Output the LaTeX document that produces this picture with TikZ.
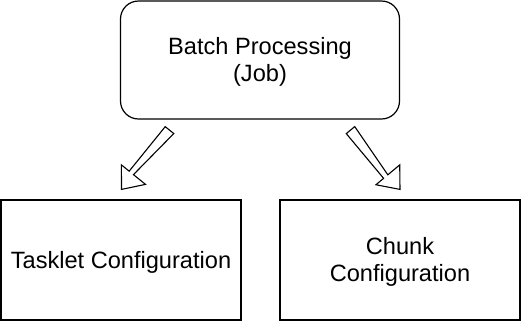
\documentclass[tikz,border=0pt]{standalone}
\usepackage{fontspec}
\setmainfont{Liberation Sans}
\usetikzlibrary{calc}

% hollow block arrow from #1 (tail) to #2 (tip)
\newcommand{\blockarrow}[2]{%
	\draw[hollowarrow]
		($(#1)!5.5pt!90:(#2)$)
		-- ($(#2)!19pt!(#1)$) -- ++(0,0) coordinate (tmp)
		-- ($(tmp)!5.5pt!-90:(#1)$)
		-- ($(tmp)!15.5pt!-90:(#1)$)
		-- (#2)
		-- ($(tmp)!15.5pt!90:(#1)$)
		-- ($(tmp)!5.5pt!90:(#1)$)
		-- ($(#1)!5.5pt!-90:(#2)$) -- cycle;}

\begin{document}
\begin{tikzpicture}[x=1pt,y=-1pt,
		box/.style={draw, line width=1.2pt, minimum width=240pt, minimum height=120pt,
			align=center, font=\fontsize{23.6}{27.5}\selectfont, inner sep=0pt,
			text depth=1pt},
		hollowarrow/.style={draw, line width=1.1pt, fill=white, line join=miter}]
			\useasboundingbox (0,0) rectangle (522,322);
			\node[box, rounded corners=18pt, minimum width=279pt, minimum height=118pt] (job) at (260,60) {Batch Processing\\(Job)};
			\node[box] (tasklet) at (121,260) {Tasklet Configuration};
			\node[box] (chunk) at (400,260) {Chunk\\Configuration};
			\coordinate (ltail) at ($(job.south)+(-90.5,10.5)$);
			\coordinate (ltip) at ($(tasklet.north)+(0.5,-10)$);
			\coordinate (rtail) at ($(job.south)+(90.5,10.5)$);
			\coordinate (rtip) at ($(chunk.north)+(0,-10)$);
			\blockarrow{ltail}{ltip}
			\blockarrow{rtail}{rtip}
\end{tikzpicture}
\end{document}
